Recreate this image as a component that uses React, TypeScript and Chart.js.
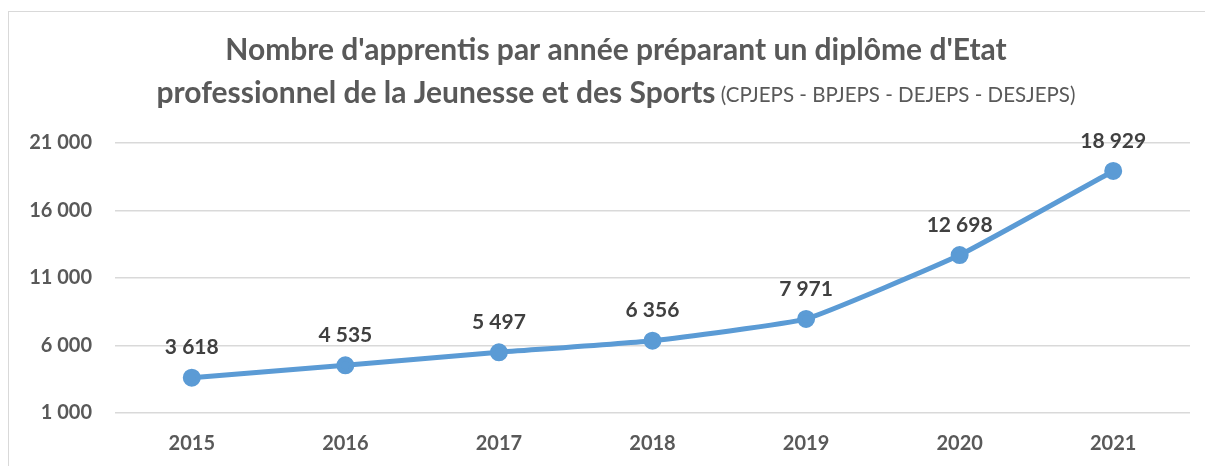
import React, { useEffect, useRef } from "react";
import { Chart, registerables } from "chart.js";

Chart.register(...registerables);

const years = ["2015", "2016", "2017", "2018", "2019", "2020", "2021"];
const apprentis = [3618, 4535, 5497, 6356, 7971, 12698, 18929];
const yTicks = [1000, 6000, 11000, 16000, 21000];
const titleLine1 = "Nombre d'apprentis par année préparant un diplôme d'Etat";
const titleLine2Bold = "professionnel de la Jeunesse et des Sports";
const titleLine2Light = " (CPJEPS - BPJEPS - DEJEPS - DESJEPS)";

const FONT = "Lato";
const fmt = (v: number) => String(Math.round(v)).replace(/\B(?=(\d{3})+(?!\d))/g, " ");

const titlePlugin = {
  id: "customTitle",
  afterDraw(chart: any) {
    const ctx = chart.ctx;
    ctx.save();
    ctx.fillStyle = "#595959";
    ctx.textBaseline = "middle";
    ctx.textAlign = "left";
    const cx = 616;
    ctx.font = `bold 30px ${FONT}`;
    const w1 = ctx.measureText(titleLine1).width;
    ctx.fillText(titleLine1, cx - w1 / 2, 50);
    const wb = ctx.measureText(titleLine2Bold).width;
    ctx.font = `20.5px ${FONT}`;
    const wl = ctx.measureText(titleLine2Light).width;
    const start = cx - (wb + wl) / 2;
    ctx.font = `bold 30px ${FONT}`;
    ctx.fillText(titleLine2Bold, start, 93);
    ctx.font = `20.5px ${FONT}`;
    ctx.fillText(titleLine2Light, start + wb, 95);
    ctx.restore();
  },
};

const labelPlugin = {
  id: "pointLabels",
  afterDatasetsDraw(chart: any) {
    const ctx = chart.ctx;
    const meta = chart.getDatasetMeta(0);
    ctx.save();
    ctx.fillStyle = "#404040";
    ctx.font = `bold 21px ${FONT}`;
    ctx.textAlign = "center";
    ctx.textBaseline = "middle";
    meta.data.forEach((pt: any, i: number) => {
      ctx.fillText(fmt(apprentis[i]), pt.x, pt.y - 30);
    });
    ctx.restore();
  },
};

export default function App() {
  const ref = useRef<HTMLCanvasElement>(null);
  useEffect(() => {
    if (!ref.current) return;
    const chart = new Chart(ref.current, {
      type: "line",
      data: {
        labels: years,
        datasets: [
          {
            data: apprentis,
            borderColor: "#5B9BD5",
            backgroundColor: "#5B9BD5",
            borderWidth: 5,
            pointRadius: 6.5,
            pointBackgroundColor: "#5B9BD5",
            pointBorderColor: "#5B9BD5",
            tension: 0.12,
            fill: false,
          },
        ],
      },
      options: {
        animation: false,
        responsive: false,
        maintainAspectRatio: false,
        layout: { padding: { left: 0, top: 143, right: 15, bottom: 0 } },
        plugins: { legend: { display: false }, title: { display: false }, tooltip: { enabled: false } },
        scales: {
          x: {
            offset: true,
            grid: { display: false, drawTicks: false },
            border: { display: false },
            ticks: { color: "#595959", font: { family: FONT, size: 20, weight: "bold" }, padding: 19 },
            afterFit: (s: any) => { s.height = 53; },
          },
          y: {
            min: 1000,
            max: 21000,
            afterBuildTicks: (s: any) => { s.ticks = yTicks.map((v) => ({ value: v })); },
            grid: { color: "#d9d9d9", lineWidth: 1.5, drawTicks: false },
            border: { display: false },
            ticks: {
              color: "#595959",
              font: { family: FONT, size: 20, weight: "bold" },
              padding: 23,
              callback: (v: any) => fmt(Number(v)),
            },
            afterFit: (s: any) => { s.width = 115; },
          },
        },
      },
      plugins: [titlePlugin, labelPlugin],
    });
    return () => chart.destroy();
  }, []);
  return (
    <div style={{ position: "fixed", left: 0, top: 0, width: 1205, height: 466, background: "#fff" }}>
      <div style={{ position: "absolute", left: 8, top: 11, right: -2, bottom: -2, border: "1.5px solid #d9d9d9" }} />
      <canvas ref={ref} width={1205} height={466} style={{ position: "absolute", left: 0, top: 0 }} />
    </div>
  );
}
